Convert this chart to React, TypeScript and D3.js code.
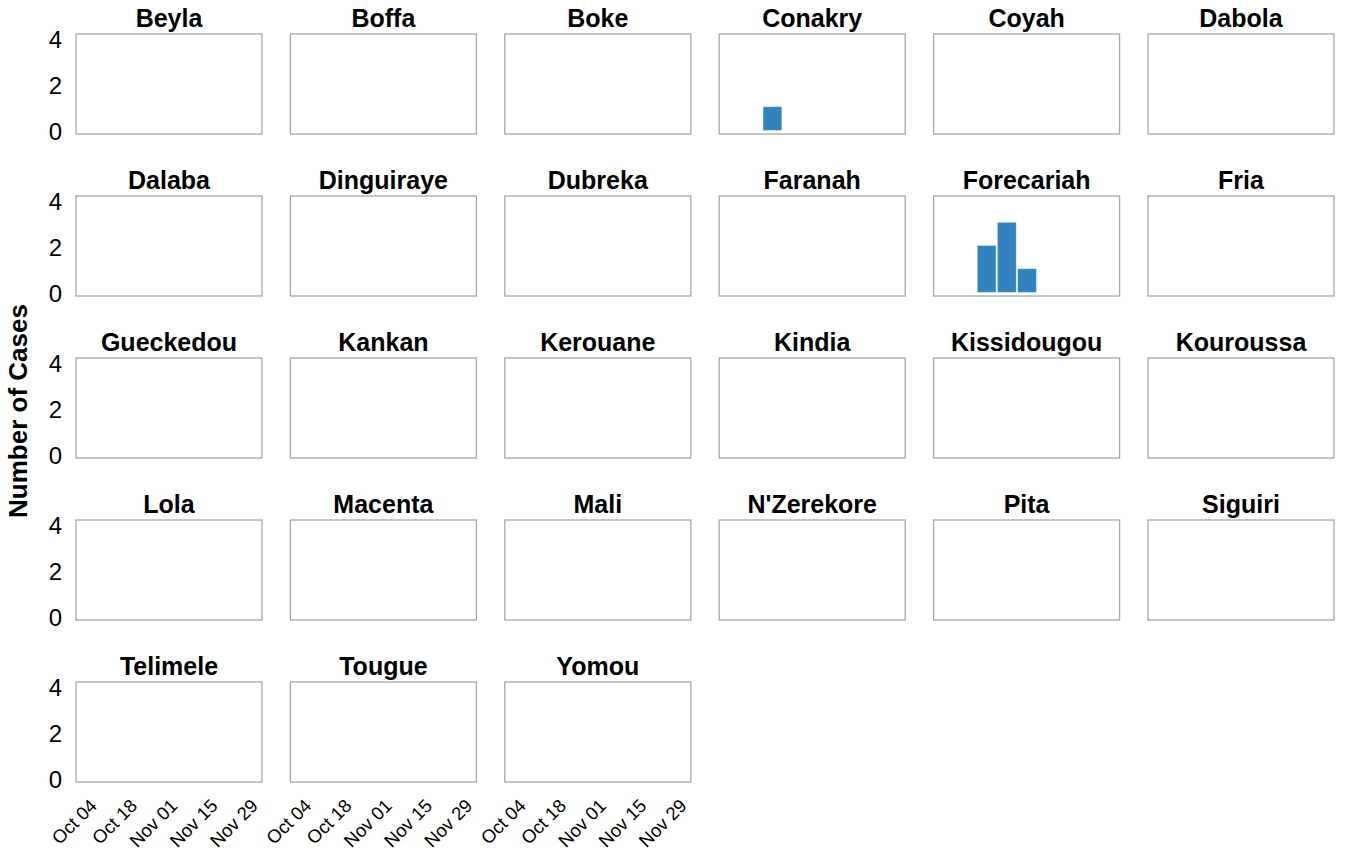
import React from "react";
import * as d3 from "d3";

// prefectures in facet order
const districts = [
  "Beyla", "Boffa", "Boke", "Conakry", "Coyah", "Dabola",
  "Dalaba", "Dinguiraye", "Dubreka", "Faranah", "Forecariah", "Fria",
  "Gueckedou", "Kankan", "Kerouane", "Kindia", "Kissidougou", "Kouroussa",
  "Lola", "Macenta", "Mali", "N'Zerekore", "Pita", "Siguiri",
  "Telimele", "Tougue", "Yomou",
];

// weekly bins (week start dates)
const weekStarts = ["2014-10-12", "2014-10-19", "2014-10-26"];
const conakryCases = [1, 0, 0];
const forecariahCases = [2, 3, 1];

const tickDates = ["2014-10-04", "2014-10-18", "2014-11-01", "2014-11-15", "2014-11-29"];
const yTicks = [0, 2, 4];

const casesByDistrict: Record<string, number[]> = {
  Conakry: conakryCases,
  Forecariah: forecariahCases,
};

const W = 1346;
const H = 854;
const left = 76;
const top = 34;
const panelW = 186;
const panelH = 100;
const colStep = 214.4;
const rowStep = 162;
const nCols = 6;
const DAY = 86400000;

const parse = d3.timeParse("%Y-%m-%d");
const fmt = d3.timeFormat("%b %d");

export default function App() {
  const x = d3
    .scaleTime()
    .domain([new Date(2014, 8, 27), new Date(2014, 10, 30, 17)])
    .range([0, panelW]);

  const y = d3.scaleLinear().domain([-0.17, 4.16]).range([panelH, 0]);

  const nRows = Math.ceil(districts.length / nCols);

  return (
    <svg width={W} height={H} style={{ display: "block", position: "absolute", left: 0, top: 0 }}
      fontFamily="'Liberation Sans', Arial, sans-serif">
      <rect width={W} height={H} fill="#fff" />
      <text
        transform={`translate(27, 411) rotate(-90)`}
        textAnchor="middle"
        fontSize="26px"
        fontWeight="bold"
        fill="#000"
      >
        Number of Cases
      </text>
      {districts.map((name, i) => {
        const col = i % nCols;
        const row = Math.floor(i / nCols);
        const px = left + col * colStep;
        const py = top + row * rowStep;
        const cases = casesByDistrict[name] || [];
        // date labels only under the last row
        const isBottom = row === nRows - 1;
        return (
          <g key={name} transform={`translate(${px}, ${py})`}>
            <text
              x={panelW / 2}
              y={-7.5}
              textAnchor="middle"
              fontSize="25px"
              fontWeight="bold"
              fill="#000"
            >
              {name}
            </text>
            <rect width={panelW} height={panelH} fill="#fff" stroke="#a8a8a8" strokeWidth={1.3} />
            {cases.map((v, j) => {
              if (!v) return null;
              const start = parse(weekStarts[j])!;
              const centre = new Date(start.getTime() + 3.5 * DAY);
              const x0 = x(new Date(centre.getTime() - 3.15 * DAY));
              const x1 = x(new Date(centre.getTime() + 3.15 * DAY));
              return (
                <rect
                  key={j}
                  x={x0}
                  y={y(v)}
                  width={x1 - x0}
                  height={y(0) - y(v)}
                  fill="#3182bd"
                  stroke="#5a9fd0"
                  strokeWidth={0.5}
                />
              );
            })}
            {col === 0 &&
              yTicks.map((t) => (
                <text
                  key={t}
                  x={-14}
                  y={y(t)}
                  dy="0.42em"
                  textAnchor="end"
                  fontSize="24px"
                  fill="#000"
                >
                  {t}
                </text>
              ))}
            {isBottom &&
              tickDates.map((d) => {
                const tx = x(parse(d)!);
                return (
                  <text
                    key={d}
                    transform={`translate(${tx + 2}, ${panelH + 25}) rotate(-45)`}
                    textAnchor="end"
                    fontSize="18.5px"
                    fill="#000"
                  >
                    {fmt(parse(d)!)}
                  </text>
                );
              })}
          </g>
        );
      })}
    </svg>
  );
}
